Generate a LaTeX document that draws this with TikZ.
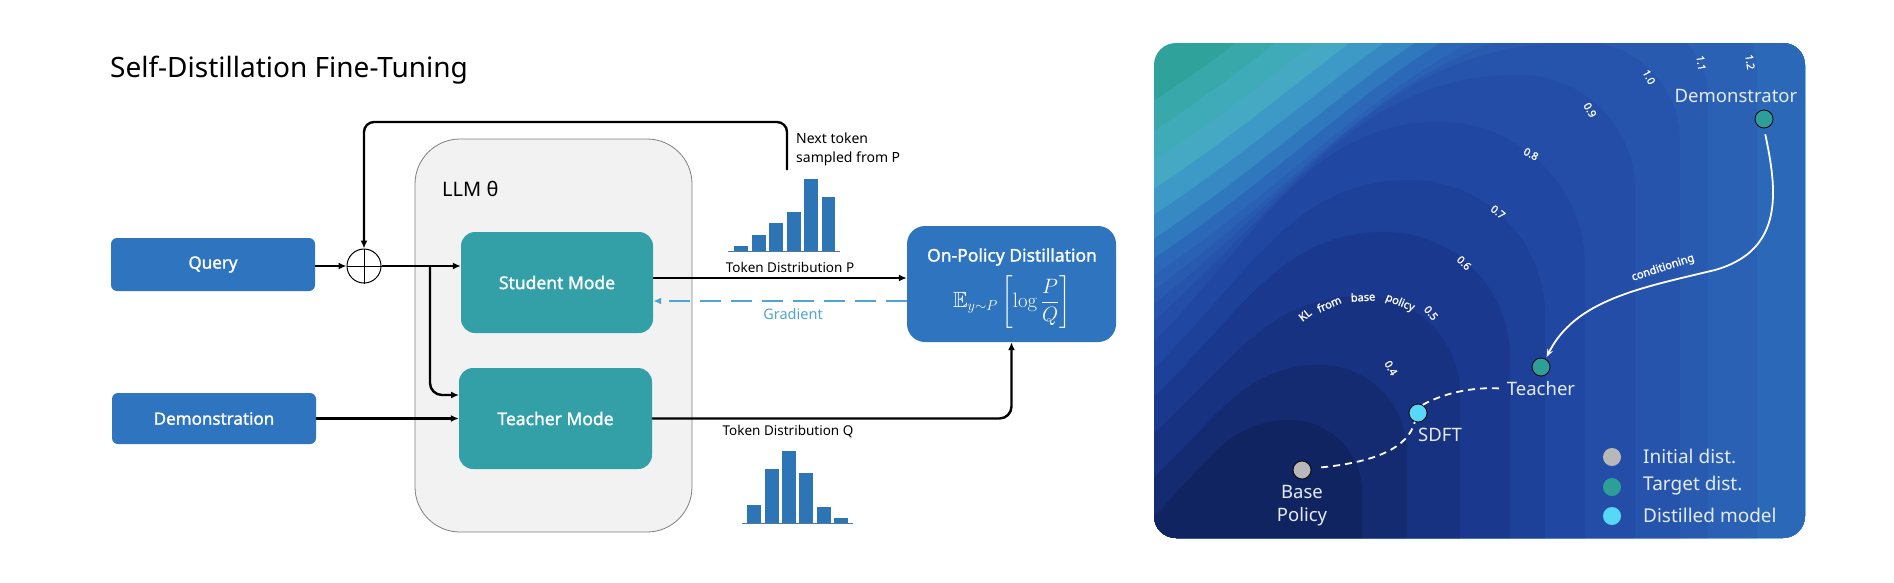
\documentclass[tikz,border=0pt]{standalone}
\usepackage{amsmath,amssymb}
\usepackage[no-math]{fontspec}
\setmainfont{Noto Sans}
\newfontfamily\semib{Noto Sans}[FakeBold=1.4]
\usetikzlibrary{arrows.meta}
\definecolor{qblue}{HTML}{2F74BE}
\definecolor{mteal}{HTML}{33A0A8}
\definecolor{histc}{HTML}{2E75B6}
\definecolor{gradc}{HTML}{4EA5D1}
\definecolor{llmfill}{HTML}{F2F2F2}
\definecolor{llmdraw}{HTML}{7F7F7F}
\definecolor{ptext}{HTML}{E4EBF6}
\definecolor{dotgray}{HTML}{B8B8B8}
\definecolor{dotteal}{HTML}{2E9E98}
\definecolor{dotcyan}{HTML}{58D8F8}
% contour band colours (fill inside each level)
\definecolor{bTop}{HTML}{2FA39B}
\definecolor{b19}{HTML}{38A8AA}
\definecolor{b18}{HTML}{40ABB8}
\definecolor{b17}{HTML}{45A9C4}
\definecolor{b16}{HTML}{3D9AC6}
\definecolor{b15}{HTML}{3689C3}
\definecolor{b14}{HTML}{3078BE}
\definecolor{b13}{HTML}{2C68B8}
\definecolor{b12}{HTML}{2A61B4}
\definecolor{b11}{HTML}{285AB0}
\definecolor{b10}{HTML}{2654AC}
\definecolor{b09}{HTML}{234DA7}
\definecolor{b08}{HTML}{2047A1}
\definecolor{b07}{HTML}{1D4099}
\definecolor{b06}{HTML}{1A398E}
\definecolor{b05}{HTML}{173281}
\definecolor{b04}{HTML}{142B71}
\definecolor{b03}{HTML}{112462}
\newcommand\myfs[1]{\fontsize{#1}{#1}\selectfont}
% #1 left-edge y, #2 top x, #3 top y, #4 right x, #5 colour
\newcommand\klband[5]{%
  \pgfmathsetmacro\klw{#2-1140}%
  \pgfmathsetmacro\klh{#1-#3}%
  \pgfmathsetmacro\klax{1140+0.4*\klw}%
  \pgfmathsetmacro\klay{#3+0.5*\klh}%
  \pgfmathsetmacro\klbx{#2-0.45*\klw}%
  \pgfmathsetmacro\klrx{#4-#2}%
  \pgfmathsetmacro\klcx{#2+0.55*\klrx}%
  \pgfmathsetmacro\klvy{#3+\klrx}%
  \pgfmathsetmacro\kldy{#3+0.45*\klrx}%
  \fill[#5] (1140,600) -- (1140,#1) .. controls (\klax,\klay) and (\klbx,#3) .. (#2,#3)
     .. controls (\klcx,#3) and (#4,\kldy) .. (#4,\klvy) -- (#4,600) -- cycle;}
\begin{document}
\begin{tikzpicture}[x=1pt,y=-1pt,
  arr/.style={line width=2.4pt, -{Latex[length=8pt,width=7pt]}},
  bluebox/.style={fill=qblue, rounded corners=6pt, text=white, font=\semib\myfs{17}, inner sep=0pt, minimum width=204pt},
  modebox/.style={fill=mteal, rounded corners=14pt, text=white, font=\semib\myfs{17.5}, inner sep=0pt, minimum width=192pt, minimum height=101pt},
  lbl/.style={font=\myfs{13.5}, inner sep=0pt},
  histbar/.style={fill=histc},
  pdot/.style={circle, minimum size=18pt, inner sep=0pt, draw=black, line width=0.8pt},
  ldot/.style={circle, minimum size=18pt, inner sep=0pt},
  ptxt/.style={text=ptext, font=\myfs{18.5}, inner sep=0pt},
  klabel/.style={text=white, font=\semib\myfs{10.5}, inner sep=0pt},
  dashc/.style={white, line width=1.8pt, dash pattern=on 7pt off 5pt},
]
\useasboundingbox (0,0) rectangle (1894,582);

% ---------------- left: diagram ----------------
\node[anchor=base west, font=\myfs{28}, inner sep=0pt] (title) at (110,77) {Self-Distillation Fine-Tuning};

\node[draw=llmdraw, fill=llmfill, line width=0.8pt, rounded corners=45pt, minimum width=277pt, minimum height=393pt, inner sep=0pt] (llm) at (553.5,335.5) {};
\node[anchor=base west, font=\myfs{20}, inner sep=0pt] (llmlab) at (442,196) {LLM θ};

\node[bluebox, minimum height=53pt] (query) at (213,264.5) {Query};
\node[bluebox, minimum height=51pt] (demo) at (214,418.5) {Demonstration};
\node[modebox] (student) at (557,282.5) {Student Mode};
\node[modebox, minimum width=193pt] (teacher) at (555.5,418.5) {Teacher Mode};
\node[fill=qblue, rounded corners=18pt, minimum width=209pt, minimum height=116pt, inner sep=0pt] (opd) at (1011.5,284) {};
\node[text=white, font=\semib\myfs{17.5}, inner sep=0pt] (opdtitle) at (1012,257) {On-Policy Distillation};
\node[text=white, font=\myfs{22}, inner sep=0pt] (opdform) at (1012,302) {$\mathbb{E}_{y\sim P}\left[\log\dfrac{P}{Q}\right]$};

\node[circle, draw, line width=1pt, minimum size=34pt, inner sep=0pt] (oplus) at (364,266) {};
\draw[line width=1pt] (oplus.north) -- (oplus.south) (oplus.west) -- (oplus.east);

\coordinate (br) at (430,266);
\coordinate (tin) at (459,395);
\coordinate (tp) at (0,278);
\coordinate (gp) at (0,301);
\coordinate (fb) at (787,170);
\coordinate (fbtop) at (0,122);

\draw[arr] (query.east |- oplus) -- (oplus.west);
\draw[arr] (oplus.east) -- (student.west |- oplus);
\draw[arr, rounded corners=12pt] (br) -- (br |- tin) -- (tin);
\draw[arr] (demo.east) -- (teacher.west);
\draw[arr] (student.east |- tp) -- (opd.west |- tp);
\draw[line width=2.4pt, gradc, dash pattern=on 21pt off 10pt, -{Latex[length=8pt,width=7pt]}] (opd.west |- gp) -- (student.east |- gp);
\draw[arr, rounded corners=12pt] (teacher.east) -- (opd.south |- teacher.east) -- (opd.south);
\draw[arr, rounded corners=10pt] (fb) -- (fb |- fbtop) -- (oplus |- fbtop) -- (oplus.north);

\node[lbl] (tdp) at (790,267) {Token Distribution P};
\node[lbl] (tdq) at (788,432) {Token Distribution Q};
\node[lbl, text=gradc, font=\myfs{14.5}] (gradlab) at (793,314) {Gradient};
\node[anchor=base west, font=\myfs{14}, inner sep=0pt] (next1) at (796,143) {Next token};
\node[anchor=base west, font=\myfs{14}, inner sep=0pt] (next2) at (796,162) {sampled from P};

% histograms
\foreach \xa/\xb/\yt in {734/748/246, 752/766/235, 769/783/223, 787/801/212, 804/818/179, 822/835/197}
  \fill[histbar] (\xa,251) rectangle (\xb,\yt);
\draw[histc!60!gray, line width=0.8pt] (728,251) -- (840,251);
\foreach \xa/\xb/\yt in {747/761/505, 765/779/469, 782/796/451, 799/813/473, 817/831/507, 834/848/518}
  \fill[histbar] (\xa,523) rectangle (\xb,\yt);
\draw[histc!60!gray, line width=0.8pt] (742,523) -- (853,523);

% ---------------- right: KL landscape ----------------
\begin{scope}
\clip[rounded corners=22pt] (1154,43) rectangle (1805,538);
\fill[bTop] (1154,43) rectangle (1805,538);
\klband{110}{1650}{-150}{2150}{b19}
\klband{140}{1660}{-125}{2100}{b18}
\klband{170}{1670}{-100}{2050}{b17}
\klband{198}{1680}{-80}{2000}{b16}
\klband{224}{1690}{-60}{1930}{b15}
\klband{248}{1700}{-45}{1880}{b14}
\klband{268}{1705}{-32}{1830}{b13}
\klband{285}{1680}{-5}{1757}{b12}
\klband{300}{1632}{20}{1708}{b11}
\klband{315}{1582}{42}{1680}{b10}
\klband{333}{1520}{75}{1635}{b09}
\klband{356}{1440}{122}{1585}{b08}
\klband{382}{1410}{180}{1545}{b07}
\klband{410}{1385}{232}{1510}{b06}
\klband{445}{1362}{296}{1460}{b05}
\klband{490}{1320}{365}{1407}{b04}
\klband{530}{1290}{420}{1362}{b03}
\end{scope}

% contour labels
\node[klabel, rotate=-60] (k04) at (1391,368) {0.4};
\node[klabel, rotate=-50] (k05) at (1431,313) {0.5};
\node[klabel, rotate=-45] (k06) at (1464,263) {0.6};
\node[klabel, rotate=-38] (k07) at (1498,212) {0.7};
\node[klabel, rotate=-28] (k08) at (1531,154) {0.8};
\node[klabel, rotate=-60] (k09) at (1590,110) {0.9};
\node[klabel, rotate=-62] (k10) at (1649,77) {1.0};
\node[klabel, rotate=-82] (k11) at (1701,63) {1.1};
\node[klabel, rotate=-82] (k12) at (1750,62) {1.2};
\node[klabel, font=\semib\myfs{11}, rotate=38] (klw1) at (1305,315) {KL};
\node[klabel, font=\semib\myfs{11}, rotate=24] (klw2) at (1329,304) {from};
\node[klabel, font=\semib\myfs{11}, rotate=3] (klw3) at (1363,297) {base};
\node[klabel, font=\semib\myfs{11}, rotate=-22] (klw4) at (1400,303) {policy};

% points
\node[pdot, fill=dotteal] (ddot) at (1764,119) {};
\node[pdot, fill=dotteal] (tdot) at (1541,367) {};
\node[pdot, fill=dotcyan] (sdot) at (1418,413) {};
\node[pdot, fill=dotgray] (bdot) at (1302,470) {};
\node[ptxt] (dlab) at (1736,96) {Demonstrator};
\node[ptxt] (tlab) at (1541,389) {Teacher};
\node[ptxt] (slab) at (1440,435) {SDFT};
\node[ptxt] (blab1) at (1302,492) {Base};
\node[ptxt] (blab2) at (1302,517) {Policy};

\draw[white, line width=1.8pt, shorten <=6pt, shorten >=2pt, -{Stealth[length=8pt,width=6pt]}]
  (ddot.south) .. controls (1777,190) and (1785,250) .. (1715,270)
  .. controls (1640,288) and (1575,300) .. (tdot.60);
\node[klabel, font=\semib\myfs{11}, rotate=18] (condlab) at (1663,268) {conditioning};

\draw[dashc, shorten <=10pt] (bdot.10) .. controls (1375,462) and (1408,448) .. (sdot.250);
\draw[dashc, shorten >=4pt] (sdot.60) .. controls (1440,395) and (1470,386) .. (tlab.west);

% legend
\node[ldot, fill=dotgray] (lg1) at (1612,457) {};
\node[ldot, fill=dotteal] (lg2) at (1612,487) {};
\node[ldot, fill=dotcyan] (lg3) at (1612,516) {};
\node[ptxt, anchor=west, font=\myfs{19}] (lt1) at (1643,456) {Initial dist.};
\node[ptxt, anchor=west, font=\myfs{19}] (lt2) at (1643,486) {Target dist.};
\node[ptxt, anchor=west, font=\myfs{19}] (lt3) at (1643,515) {Distilled model};
\end{tikzpicture}
\end{document}
